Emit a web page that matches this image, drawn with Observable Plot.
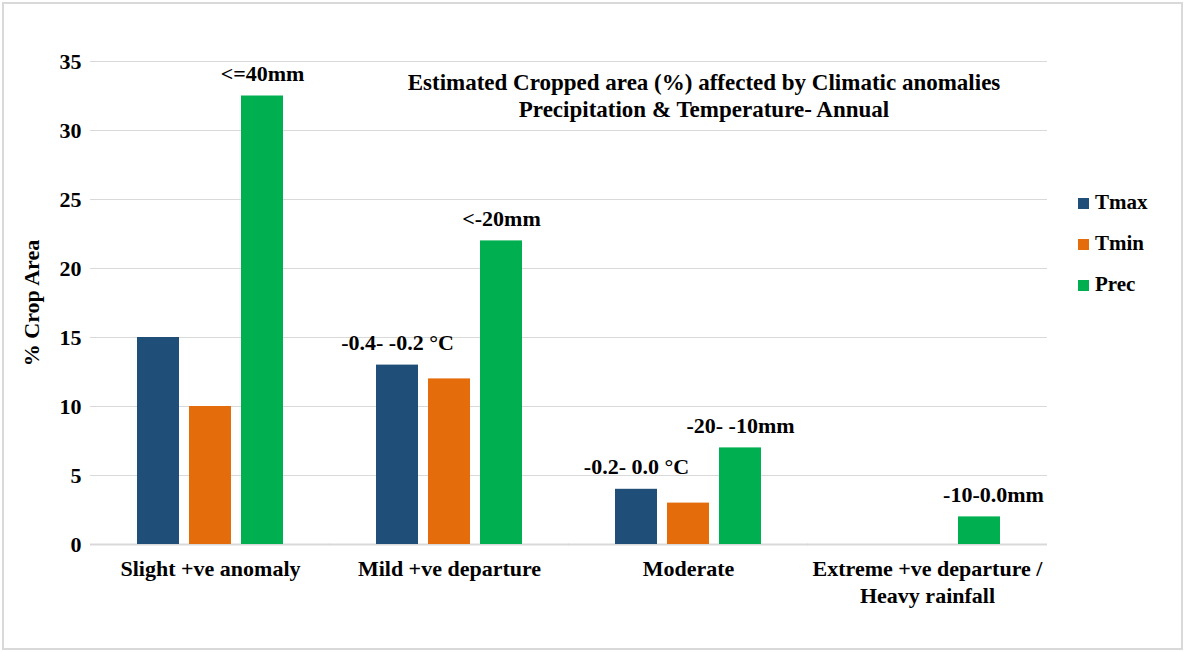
<!DOCTYPE html>
<html>
<head>
<meta charset="utf-8">
<script src="https://cdn.jsdelivr.net/npm/d3@7"></script>
<script src="https://cdn.jsdelivr.net/npm/@observablehq/plot@0.6"></script>
<style>
  html, body { margin: 0; padding: 0; background: #fff; }
  #wrap { position: relative; width: 1185px; height: 652px; font-family: "Liberation Serif", "Times New Roman", serif; font-weight: bold; color: #000; }
  #border { position: absolute; left: 2px; top: 2px; width: 1181px; height: 648px; border: 2px solid #d9d9d9; box-sizing: border-box; pointer-events: none; }
  #title { position: absolute; left: 354px; width: 700px; top: 69px; text-align: center; font-size: 23px; line-height: 27px; }
  #legend { position: absolute; left: 1078px; top: 189px; font-size: 21px; }
  .item { position: relative; height: 41px; line-height: 26px; }
  .sw { display: inline-block; width: 11px; height: 11px; margin-right: 6px; vertical-align: 0px; }
</style>
</head>
<body>
<div id="wrap">
  <div id="chart"></div>
  <div id="title">Estimated Cropped area (%) affected by Climatic anomalies<br>Precipitation &amp; Temperature- Annual</div>
  <div id="legend"></div>
  <div id="border"></div>
</div>
<script>
const categories = ["Slight +ve anomaly", "Mild +ve departure", "Moderate", "Extreme +ve departure /\nHeavy rainfall"];
const series = ["Tmax", "Tmin", "Prec"];
const colors = ["#1f4e79", "#e46c0a", "#00b050"];
const tmaxValues = [15, 13, 4, 0];
const tminValues = [10, 12, 3, 0];
const precValues = [32.5, 22, 7, 2];
const yTicks = [0, 5, 10, 15, 20, 25, 30, 35];
const labelCategory = ["Slight +ve anomaly", "Mild +ve departure", "Mild +ve departure", "Moderate", "Moderate", "Extreme +ve departure /\nHeavy rainfall"];
const labelSeries = ["Prec", "Prec", "Tmax", "Tmax", "Prec", "Prec"];
const labelText = ["<=40mm", "<-20mm", "-0.4- -0.2 \u00B0C", "-0.2- 0.0 \u00B0C", "-20- -10mm", "-10-0.0mm"];

const seriesValues = {Tmax: tmaxValues, Tmin: tminValues, Prec: precValues};
const data = [];
categories.forEach((c, i) => series.forEach(s => data.push({category: c, series: s, value: seriesValues[s][i]})));
const labels = labelText.map((t, i) => {
  const ci = categories.indexOf(labelCategory[i]);
  return {category: labelCategory[i], series: labelSeries[i], text: t, value: seriesValues[labelSeries[i]][ci]};
});
const mainLabels = labels.filter(d => d.text !== "-10-0.0mm");
const shiftedLabels = labels.filter(d => d.text === "-10-0.0mm");

const font = "Liberation Serif";
const chart = Plot.plot({
  width: 1185,
  height: 652,
  marginLeft: 90,
  marginRight: 137,
  marginTop: 61,
  marginBottom: 108,
  style: {fontFamily: font, fontSize: "22px", fontWeight: "bold", color: "#000", background: "transparent"},
  fx: {domain: categories, paddingInner: 0.38, paddingOuter: 0.19, label: null},
  x: {domain: series, paddingInner: 0.2, paddingOuter: 0, axis: null, label: null},
  y: {domain: [0, 35], label: null},
  color: {domain: series, range: colors},
  marks: [
    Plot.ruleY(yTicks.filter(d => d > 0), {stroke: "#d9d9d9", strokeWidth: 1, insetLeft: -46, insetRight: -46}),
    Plot.ruleY([0], {stroke: "#d9d9d9", strokeWidth: 2, insetLeft: -46, insetRight: -46}),
    Plot.barY(data, {fx: "category", x: "series", y: "value", fill: "series"}),
    Plot.text(mainLabels, {fx: "category", x: "series", y: "value", text: "text", dy: -22, fontSize: 22, fontFamily: font, fontWeight: "bold", fill: "#000"}),
    Plot.text(shiftedLabels, {fx: "category", x: "series", y: "value", text: "text", dy: -22, dx: 14, fontSize: 22, fontFamily: font, fontWeight: "bold", fill: "#000"}),
    Plot.axisY({ticks: yTicks, tickSize: 0, tickPadding: 55, fontSize: 22, fontWeight: "bold", label: "% Crop Area", labelAnchor: "center", labelOffset: 113, labelArrow: "none"}),
    Plot.axisFx({anchor: "bottom", tickSize: 0, tickPadding: 13, fontSize: 22, fontWeight: "bold", label: null, lineHeight: 1.2})
  ]
});
document.getElementById("chart").appendChild(chart);

const legend = document.getElementById("legend");
series.forEach((s, i) => {
  const div = document.createElement("div");
  div.className = "item";
  div.innerHTML = `<span class="sw" style="background:${colors[i]}"></span>${s}`;
  legend.appendChild(div);
});
</script>
</body>
</html>
